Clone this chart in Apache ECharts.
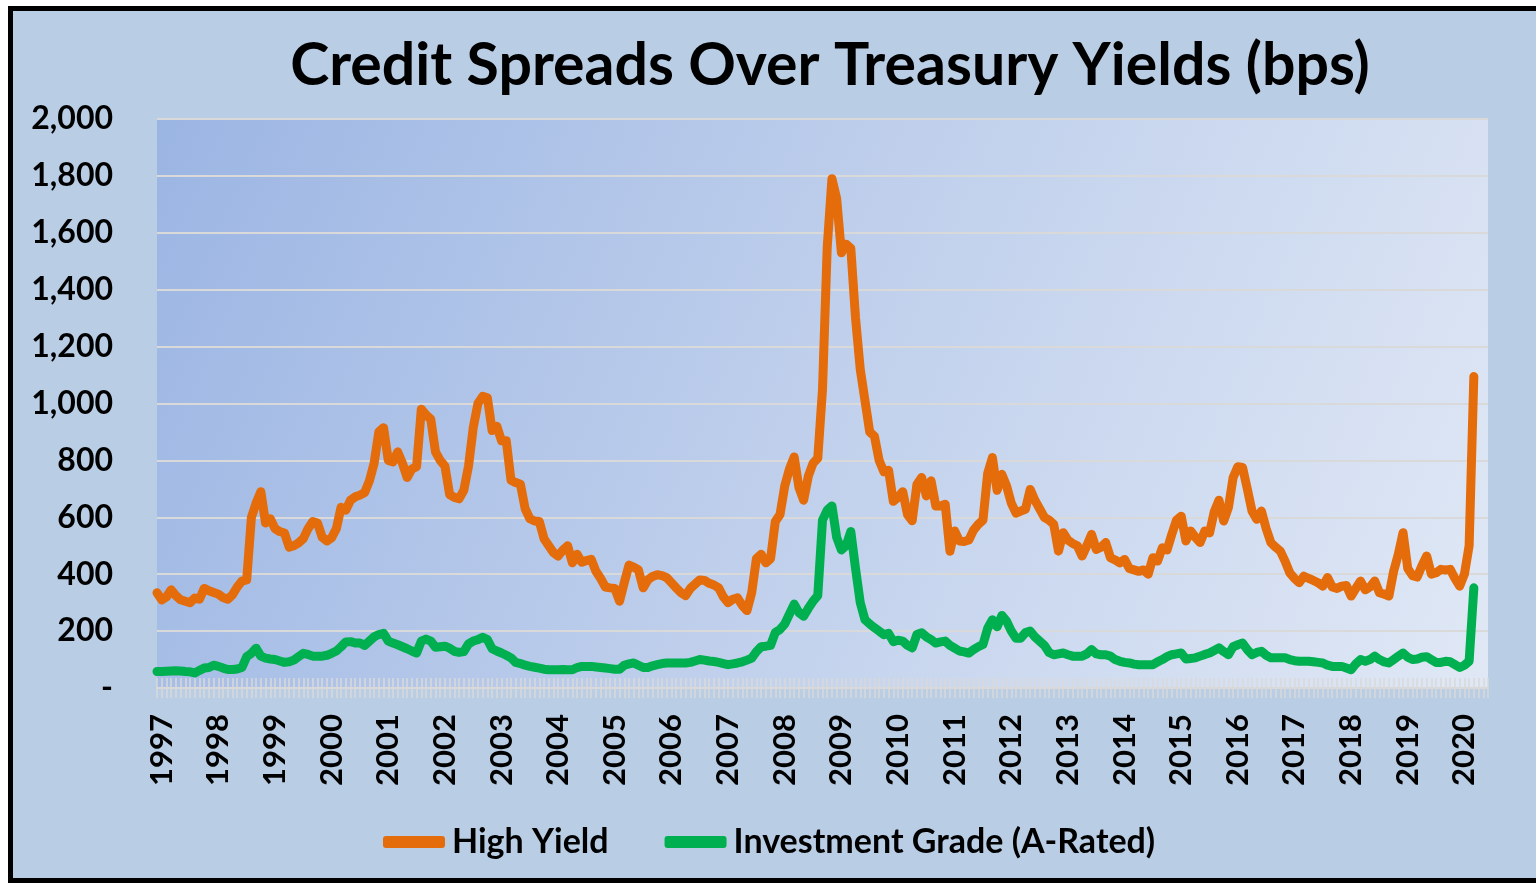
<!DOCTYPE html>
<html>
<head>
<meta charset="utf-8">
<script src="https://cdn.jsdelivr.net/npm/echarts@6/dist/echarts.min.js"></script>
<style>
  html, body { margin: 0; padding: 0; background: #fff; }
  #chart { width: 1536px; height: 883px; }
</style>
</head>
<body>
<div id="chart"></div>
<script>
// monthly points, first one is Dec 1996
var hyData = [
    335, 310, 320, 345, 325, 310, 305, 300, 316, 312,
    350, 342, 336, 330, 318, 312, 328, 355, 376, 380,
    600, 650, 690, 580, 595, 560, 550, 545, 495, 500,
    510, 525, 560, 585, 580, 530, 517, 528, 560, 635,
    625, 660, 672, 678, 687, 728, 790, 900, 915, 800,
    795, 830, 790, 740, 770, 778, 980, 960, 945, 830,
    800, 780, 680, 670, 665, 695, 780, 915, 1000, 1025,
    1020, 905, 920, 869, 869, 730, 722, 716, 630, 595,
    587, 585, 525, 500, 476, 464, 485, 500, 440, 470,
    442, 448, 452, 410, 385, 355, 352, 350, 305, 370,
    432, 425, 415, 352, 380, 392, 398, 395, 388, 370,
    352, 335, 325, 350, 365, 380, 378, 368, 362, 352,
    320, 300, 312, 317, 290, 272, 335, 455, 470, 440,
    455, 585, 610, 710, 770, 812, 705, 660, 745, 790,
    808, 1050, 1550, 1790, 1720, 1530, 1560, 1545, 1300, 1120,
    1010, 900, 885, 800, 760, 765, 656, 670, 690, 610,
    588, 715, 740, 675, 728, 640, 640, 646, 481, 552,
    517, 515, 520, 555, 575, 590, 755, 810, 695, 751,
    710, 650, 615, 622, 628, 698, 660, 630, 600, 590,
    575, 481, 546, 520, 508, 500, 464, 500, 540, 487,
    495, 511, 458, 450, 440, 452, 420, 415, 410, 415,
    400, 458, 446, 493, 485, 540, 590, 604, 517, 552,
    530, 511, 552, 545, 620, 660, 587, 634, 740, 778,
    775, 700, 622, 593, 622, 560, 511, 495, 481, 446,
    405, 385, 370, 393, 385, 378, 370, 358, 388, 355,
    350, 358, 360, 323, 350, 376, 345, 355, 376, 335,
    330, 323, 410, 470, 546, 420, 395, 390, 430, 464,
    400, 405, 417, 415, 417, 385, 358, 400, 500, 1095
];

var igData = [
    58, 58, 59, 60, 61, 60, 58, 57, 53, 62,
    70, 72, 80, 76, 70, 65, 65, 67, 72, 110,
    122, 140, 112, 105, 102, 100, 95, 90, 92, 98,
    110, 122, 118, 112, 112, 112, 115, 122, 130, 145,
    162, 163, 158, 158, 150, 165, 180, 188, 192, 165,
    158, 152, 145, 138, 130, 123, 165, 172, 165, 143,
    145, 147, 140, 129, 125, 128, 155, 165, 170, 178,
    170, 138, 130, 123, 115, 106, 90, 86, 80, 76,
    73, 70, 66, 64, 64, 64, 65, 64, 64, 72,
    76, 76, 76, 74, 72, 70, 68, 66, 66, 80,
    85, 88, 80, 72, 72, 78, 82, 86, 88, 88,
    88, 88, 88, 90, 95, 100, 98, 95, 93, 90,
    86, 82, 85, 88, 92, 98, 105, 128, 145, 147,
    150, 195, 206, 225, 260, 295, 265, 252, 280, 305,
    325, 590, 625, 640, 530, 485, 500, 550, 420, 300,
    240, 225, 212, 200, 187, 192, 163, 168, 165, 150,
    141, 188, 194, 180, 170, 158, 162, 165, 150, 140,
    130, 127, 123, 135, 145, 153, 210, 240, 215, 255,
    235, 200, 175, 175, 195, 200, 180, 165, 150, 125,
    117, 120, 123, 117, 112, 112, 112, 120, 135, 120,
    117, 117, 112, 100, 94, 90, 88, 84, 82, 82,
    82, 82, 92, 100, 110, 117, 120, 123, 102, 104,
    106, 112, 118, 123, 132, 141, 128, 117, 145, 152,
    158, 135, 117, 125, 129, 115, 106, 106, 106, 106,
    100, 96, 94, 94, 94, 92, 90, 88, 80, 76,
    76, 76, 70, 64, 85, 100, 94, 100, 112, 100,
    92, 88, 100, 112, 123, 108, 100, 102, 108, 110,
    100, 90, 90, 94, 92, 82, 72, 80, 94, 352
];

var seriesNames = ['High Yield', 'Investment Grade (A-Rated)'];
var seriesColors = ['#E46C0A', '#00B050'];
var yTicks = [0, 200, 400, 600, 800, 1000, 1200, 1400, 1600, 1800, 2000];

// month categories Dec 1996 .. Jun 2020 (axis runs a little past the data)
var months = [];
for (var i = 0; i < 283; i++) {
    var y = 1996 + Math.floor((11 + i) / 12);
    var m = (11 + i) % 12 + 1;
    months.push(y + '-' + (m < 10 ? '0' + m : m));
}

var font = 'Lato';
var myChart = echarts.init(document.getElementById('chart'));

var option = {
    backgroundColor: '#ffffff',
    animation: false,
    graphic: [
        {
            type: 'rect',
            z: -10,
            shape: {x: 10.5, y: 8.5, width: 1545, height: 872},
            style: {fill: '#b9cde5', stroke: '#000', lineWidth: 5}
        }
    ],
    title: {
        text: 'Credit Spreads Over Treasury Yields (bps)',
        left: 825,
        top: 31,
        textAlign: 'center',
        textStyle: {
            fontFamily: font,
            fontWeight: 'bold',
            fontSize: 59,
            color: '#000'
        }
    },
    legend: {
        left: 378,
        top: 820,
        itemWidth: 62,
        itemHeight: 12,
        itemGap: 56,
        icon: 'roundRect',
        data: seriesNames,
        textStyle: {
            fontFamily: font,
            fontWeight: 'bold',
            fontSize: 34,
            color: '#000',
            padding: [0, 0, 0, 2]
        }
    },
    grid: {
        left: 157,
        right: 48,
        top: 119,
        bottom: 195,
        show: true,
        borderWidth: 0,
        backgroundColor: new echarts.graphic.LinearGradient(0, 0, 1, 1, [
            {offset: 0, color: '#9bb5e3'},
            {offset: 0.5, color: '#c0d0ec'},
            {offset: 1, color: '#e0e8f5'}
        ])
    },
    xAxis: [
        {
            type: 'category',
            data: months,
            boundaryGap: false,
            axisLine: {lineStyle: {color: '#d9d9d9', width: 2}},
            axisTick: {show: true, interval: 0, length: 10, lineStyle: {color: '#d9d9d9', width: 1.5}},
            axisLabel: {
                interval: function (index, value) {
                    return value.slice(5) === '01';
                },
                formatter: function (value) {
                    return value.slice(0, 4);
                },
                rotate: 90,
                margin: 26,
                fontFamily: font,
                fontWeight: 'bold',
                fontSize: 31,
                color: '#000'
            },
            splitLine: {show: false}
        },
        {
            type: 'category',
            data: months,
            position: 'bottom',
            boundaryGap: false,
            axisLine: {show: false},
            axisTick: {show: true, inside: true, interval: 0, length: 10, lineStyle: {color: '#d9d9d9', width: 1.5}},
            axisLabel: {show: false},
            splitLine: {show: false}
        }
    ],
    yAxis: {
        type: 'value',
        min: 0,
        max: 2000,
        interval: 200,
        axisLine: {show: false},
        axisTick: {show: false},
        axisLabel: {
            margin: 44,
            fontFamily: font,
            fontWeight: 'bold',
            fontSize: 32,
            color: '#000',
            formatter: function (v) {
                if (v === 0) {
                    return '-';
                }
                return v.toLocaleString('en-US');
            }
        },
        splitLine: {lineStyle: {color: '#d9d9d9', width: 2}}
    },
    series: [
        {
            name: seriesNames[0],
            type: 'line',
            data: hyData,
            showSymbol: false,
            color: seriesColors[0],
            lineStyle: {width: 9, cap: 'round', join: 'round'}
        },
        {
            name: seriesNames[1],
            type: 'line',
            data: igData,
            showSymbol: false,
            color: seriesColors[1],
            lineStyle: {width: 9, cap: 'round', join: 'round'}
        }
    ]
};
myChart.setOption(option);
</script>
</body>
</html>
